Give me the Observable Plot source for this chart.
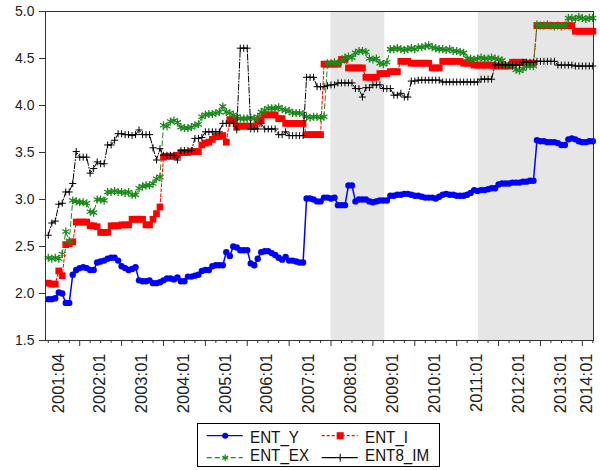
<!DOCTYPE html>
<html><head><meta charset="utf-8">
<script src="https://cdn.jsdelivr.net/npm/d3@7"></script>
<script src="https://cdn.jsdelivr.net/npm/@observablehq/plot@0.6"></script>
<style>
body{margin:0;background:#fff;}
#wrap{position:relative;width:600px;height:470px;overflow:hidden;}
#legend{position:absolute;left:197px;top:423px;}
</style></head>
<body><div id="wrap"><div id="chart"></div><div id="legend"></div></div>
<script>
// months counted from 2001:01 (=0); first observation 2001:04
const firstMonth = 3;
const ENT_Y = [
 1.94,1.94,1.95,2.01,2.00,1.90,1.90,2.20,2.25,
 2.27,2.28,2.27,2.25,2.25,2.33,2.34,2.35,2.37,2.38,2.38,2.35,
 2.29,2.27,2.25,2.26,2.28,2.14,2.13,2.13,2.14,2.11,2.11,2.12,
 2.14,2.16,2.16,2.15,2.17,2.13,2.13,2.18,2.18,2.19,2.20,2.24,
 2.25,2.25,2.29,2.30,2.30,2.30,2.44,2.40,2.50,2.49,2.46,2.46,
 2.46,2.32,2.30,2.37,2.44,2.45,2.45,2.43,2.41,2.38,2.36,2.39,
 2.35,2.35,2.34,2.33,2.33,3.01,3.01,3.00,2.98,2.98,3.02,3.02,
 3.01,3.02,2.94,2.94,2.94,3.15,3.15,2.98,3.00,3.00,3.00,2.98,
 2.97,2.98,2.99,2.99,2.99,3.04,3.04,3.05,3.05,3.06,3.06,3.05,
 3.04,3.04,3.03,3.02,3.02,3.02,3.01,3.03,3.05,3.06,3.05,3.05,
 3.04,3.04,3.04,3.05,3.07,3.10,3.09,3.10,3.10,3.11,3.12,3.12,
 3.16,3.17,3.17,3.17,3.18,3.18,3.18,3.19,3.19,3.20,3.20,3.63,
 3.62,3.62,3.61,3.61,3.61,3.60,3.58,3.58,3.64,3.65,3.64,3.62,
 3.61,3.61,3.62,3.62];
const ENT_I = [
 2.11,2.10,2.10,2.24,2.19,2.52,2.53,2.55,2.76,
 2.76,2.76,2.76,2.72,2.72,2.71,2.65,2.65,2.65,2.72,2.72,2.72,
 2.73,2.73,2.73,2.79,2.79,2.79,2.79,2.73,2.73,2.79,2.85,2.92,
 3.45,3.46,3.46,3.46,3.47,3.50,3.50,3.50,3.51,3.51,3.51,3.58,
 3.60,3.61,3.64,3.67,3.67,3.68,3.61,3.85,3.85,3.78,3.78,3.78,
 3.78,3.78,3.78,3.83,3.85,3.90,3.90,3.90,3.90,3.86,3.86,3.81,
 3.81,3.81,3.81,3.81,3.81,3.69,3.69,3.69,3.69,3.69,4.44,4.44,
 4.44,4.44,4.44,4.49,4.49,4.40,4.40,4.40,4.40,4.40,4.30,4.30,
 4.30,4.30,4.34,4.34,4.34,4.36,4.36,4.36,4.47,4.47,4.47,4.45,
 4.45,4.45,4.45,4.45,4.45,4.40,4.40,4.40,4.47,4.47,4.47,4.47,
 4.47,4.47,4.45,4.45,4.45,4.43,4.43,4.43,4.43,4.43,4.43,4.42,
 4.42,4.42,4.42,4.42,4.46,4.46,4.46,4.46,4.45,4.45,4.45,4.85,
 4.85,4.85,4.85,4.85,4.85,4.85,4.85,4.85,4.85,4.85,4.79,4.79,
 4.79,4.79,4.79,4.79];
const ENT_EX = [
 2.38,2.37,2.38,2.37,2.42,2.66,2.56,2.99,2.98,
 2.97,2.97,2.96,2.87,2.86,3.00,3.00,2.99,3.08,3.08,3.09,3.08,
 3.08,3.07,3.08,3.05,3.05,3.12,3.14,3.15,3.15,3.17,3.22,3.24,
 3.79,3.78,3.83,3.84,3.82,3.77,3.76,3.76,3.77,3.79,3.80,3.88,
 3.90,3.91,3.91,3.92,3.93,3.99,3.93,3.92,3.90,3.88,3.86,3.86,
 3.86,3.87,3.86,3.88,3.93,3.95,3.97,3.97,3.97,3.98,3.96,3.95,
 3.94,3.92,3.92,3.92,3.91,3.88,3.87,3.88,3.88,3.87,3.88,4.45,
 4.45,4.46,4.45,4.47,4.51,4.52,4.51,4.56,4.58,4.58,4.57,4.50,
 4.49,4.50,4.45,4.44,4.46,4.60,4.60,4.61,4.60,4.59,4.60,4.61,
 4.60,4.62,4.62,4.63,4.64,4.62,4.61,4.60,4.60,4.59,4.60,4.58,
 4.58,4.57,4.56,4.50,4.50,4.49,4.50,4.51,4.50,4.50,4.51,4.50,
 4.49,4.48,4.43,4.43,4.42,4.38,4.37,4.39,4.42,4.42,4.42,4.86,
 4.85,4.85,4.86,4.85,4.84,4.85,4.84,4.85,4.93,4.93,4.92,4.94,
 4.93,4.92,4.93,4.93];
const ENT8_IM = [
 2.62,2.75,2.77,2.95,2.96,3.08,3.08,3.17,3.51,
 3.45,3.45,3.45,3.28,3.33,3.40,3.38,3.38,3.58,3.58,3.63,3.70,
 3.70,3.69,3.69,3.68,3.69,3.74,3.69,3.69,3.69,3.55,3.42,3.54,
 3.47,3.47,3.47,3.47,3.42,3.52,3.52,3.52,3.52,3.65,3.65,3.66,
 3.72,3.72,3.72,3.72,3.72,3.81,3.81,3.81,3.81,3.74,4.61,4.61,
 4.61,3.75,3.75,3.75,3.81,3.75,3.75,3.75,3.75,3.69,3.69,3.72,
 3.68,3.68,3.68,3.68,3.68,4.30,4.30,4.30,4.20,4.20,4.20,4.21,
 4.22,4.22,4.24,4.24,4.24,4.24,4.24,4.18,4.18,4.09,4.19,4.19,
 4.22,4.22,4.22,4.18,4.18,4.18,4.11,4.11,4.13,4.09,4.09,4.26,
 4.26,4.27,4.27,4.27,4.27,4.27,4.27,4.27,4.25,4.25,4.25,4.25,
 4.25,4.25,4.25,4.25,4.25,4.25,4.25,4.28,4.28,4.28,4.28,4.43,
 4.43,4.43,4.43,4.43,4.43,4.43,4.43,4.46,4.46,4.46,4.46,4.47,
 4.47,4.47,4.47,4.47,4.47,4.43,4.43,4.43,4.43,4.43,4.42,4.42,
 4.42,4.42,4.42,4.42];
// shaded periods (months from 2001:01)
const shadeStart = [84, 126.2];
const shadeEnd   = [99.4, 159.2];
const yTicks = [1.5, 2.0, 2.5, 3.0, 3.5, 4.0, 4.5, 5.0];
const xLabels = ["2001:04","2002:01","2003:01","2004:01","2005:01","2006:01","2007:01",
                 "2008:01","2009:01","2010:01","2011:01","2012:01","2013:01","2014:01"];
const seriesNames = ["ENT_Y","ENT_I","ENT_EX","ENT8_IM"];
const seriesColors = ["#0000ff","#ff0000","#1a8a1a","#000000"];

const xDomain = [2.2, 159.2];
const rows = ENT_Y.map((v, i) => ({t: firstMonth + i, ENT_Y: v, ENT_I: ENT_I[i], ENT_EX: ENT_EX[i], ENT8_IM: ENT8_IM[i]}));
const shades = shadeStart.map((s, i) => ({s, e: shadeEnd[i]}));

// ticks: yearly (January) major, quarterly minor
const majorTicks = d3.range(12, xDomain[1], 12);
const minorTicks = d3.range(firstMonth, xDomain[1], 3).filter(t => t % 12 !== 0);
// labels centred in each year's span
const labelPos = xLabels.map((lab, i) => {
  const a = i === 0 ? xDomain[0] - 1.8 : 12 * i;
  const b = Math.min(12 * (i + 1), xDomain[1]);
  return (a + b) / 2 - 0.3;
});
const labelMap = new Map(labelPos.map((p, i) => [p, xLabels[i]]));

const font = "'Liberation Sans', Arial, sans-serif";
const [cY, cI, cEX, cIM] = seriesColors;
const chart = Plot.plot({
  width: 600, height: 415,
  marginTop: 11, marginBottom: 75, marginLeft: 45, marginRight: 7,
  x: {domain: xDomain},
  y: {domain: [1.5, 5.0]},
  style: {fontFamily: font, fontSize: "14px", color: "#222", background: "#fff"},
  marks: [
    Plot.rect(shades, {x1: "s", x2: "e", fill: "#e6e6e6"}),
    Plot.line(rows, {x: "t", y: "ENT_Y", stroke: cY, strokeWidth: 1.5}),
    Plot.dot(rows, {x: "t", y: "ENT_Y", fill: cY, r: 3.2}),
    Plot.line(rows, {x: "t", y: "ENT_I", stroke: cI, strokeWidth: 1, strokeDasharray: "3,2"}),
    Plot.dot(rows, {x: "t", y: "ENT_I", symbol: "square", fill: cI, r: 3.8}),
    Plot.line(rows, {x: "t", y: "ENT_EX", stroke: cEX, strokeWidth: 1, strokeDasharray: "5,3"}),
    Plot.dot(rows, {x: "t", y: "ENT_EX", symbol: "asterisk", stroke: cEX, r: 3.8, strokeWidth: 1.3}),
    Plot.line(rows, {x: "t", y: "ENT8_IM", stroke: cIM, strokeWidth: 1, strokeDasharray: "6,2,1,2"}),
    Plot.dot(rows, {x: "t", y: "ENT8_IM", symbol: "plus", stroke: cIM, r: 2.4, strokeWidth: 1}),
    Plot.axisY({ticks: yTicks, tickFormat: d3.format(".1f"), tickSize: 6, tickPadding: 5, fontSize: 14, stroke: "#333"}),
    Plot.axisX({ticks: minorTicks, tickSize: 3, tickFormat: () => "", stroke: "#333"}),
    Plot.axisX({ticks: majorTicks, tickSize: 6, tickFormat: () => "", stroke: "#333"}),
    Plot.axisX({ticks: labelPos, tickSize: 0, tickPadding: 13, tickRotate: -90, tickFormat: d => labelMap.get(d), fontSize: 16.5}),
    Plot.frame({stroke: "#333"})
  ]
});
document.getElementById("chart").appendChild(chart);

// legend (SVG box below the chart)
const dashes = [null, "3,2", "5,3", null];
const markers = ["circle", "square", "asterisk", "plus"];
const cols = [[9.7, 53], [124.7, 168]];   // swatch start, text x
const rowsY = [[12.7, 19.5], [34.7, 37.9]]; // line y, text baseline
let s = `<svg width="244" height="45" xmlns="http://www.w3.org/2000/svg" style="font-family:${font}">`;
s += `<rect x="0.5" y="0.5" width="242" height="43" fill="#fff" stroke="#000" stroke-width="1"/>`;
seriesNames.forEach((name, i) => {
  const [sx, tx] = cols[i % 2];
  const [ly, ty] = rowsY[Math.floor(i / 2)];
  const c = seriesColors[i];
  const mx = sx + 18.5;
  s += `<line x1="${sx}" x2="${sx + 36}" y1="${ly}" y2="${ly}" stroke="${c}" stroke-width="1.3" ${dashes[i] ? `stroke-dasharray="${dashes[i]}"` : ""}/>`;
  if (markers[i] === "circle") s += `<circle cx="${mx}" cy="${ly}" r="3" fill="${c}"/>`;
  if (markers[i] === "square") s += `<rect x="${mx - 3.5}" y="${ly - 3.5}" width="7" height="7" fill="${c}"/>`;
  if (markers[i] === "asterisk") s += `<path d="M${mx},${ly - 3.5}V${ly + 3.5}M${mx - 3},${ly - 1.8}L${mx + 3},${ly + 1.8}M${mx - 3},${ly + 1.8}L${mx + 3},${ly - 1.8}" stroke="${c}" stroke-width="1.2"/>`;
  if (markers[i] === "plus") s += `<path d="M${mx},${ly - 4}V${ly + 4}" stroke="${c}" stroke-width="1"/>`;
  s += `<text transform="translate(${tx},${ty}) scale(0.95,1)" font-size="16" fill="#111">${name}</text>`;
});
s += `</svg>`;
document.getElementById("legend").innerHTML = s;
</script>
</body></html>
